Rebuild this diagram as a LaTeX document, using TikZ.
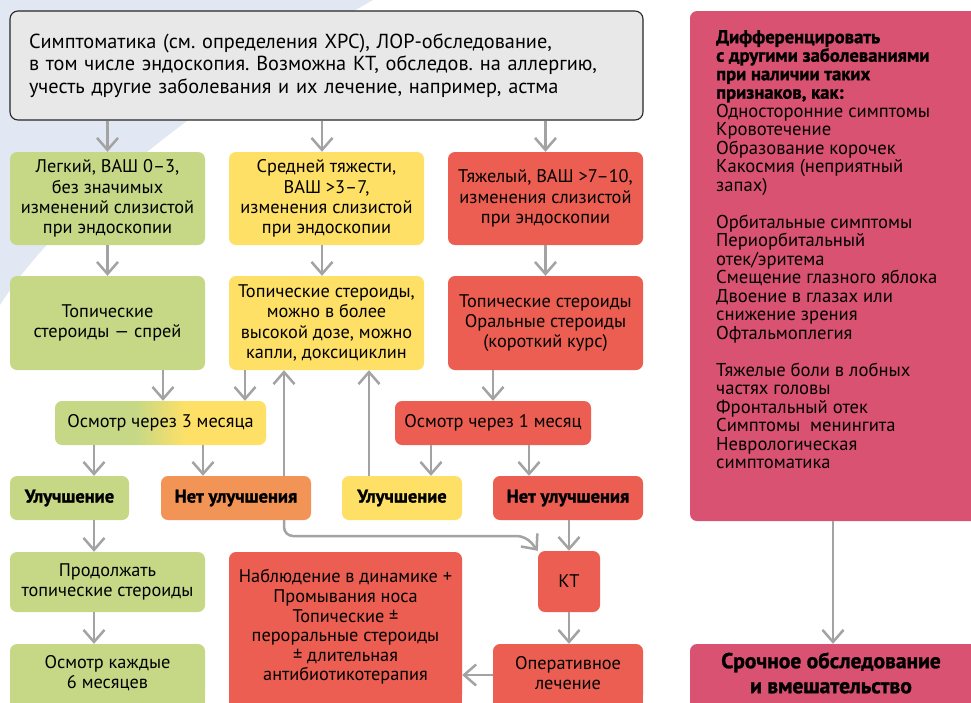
\documentclass[tikz,border=0pt]{standalone}
\usepackage{fontspec}
\setmainfont{PT Sans}[BoldFeatures={FakeBold=1.3}]
\usetikzlibrary{arrows.meta,calc}
\definecolor{cG}{HTML}{C6D886}
\definecolor{cY}{HTML}{FEE066}
\definecolor{cR}{HTML}{EC5E51}
\definecolor{cO}{HTML}{F29455}
\definecolor{cP}{HTML}{D95272}
\definecolor{cA}{HTML}{A3A3A3}
\definecolor{cT}{HTML}{E8E8E8}
\definecolor{cB}{HTML}{E1E7F3}
\pgfdeclarehorizontalshading{gyshade}{100bp}{color(0bp)=(cG); color(44bp)=(cG); color(56bp)=(cY); color(100bp)=(cY)}
\frenchspacing
\lineskiplimit=-20pt
\begin{document}
\begin{tikzpicture}[x=1pt,y=-1pt,
  box/.style={rectangle, rounded corners=7pt, inner sep=0pt, align=center, text=black,
    font=\fontsize{18.3}{20.3}\selectfont},
  bbox/.style={box, font=\bfseries\fontsize{18.5}{20.5}\selectfont},
  arr/.style={draw=cA, line width=2.5pt, -{Straight Barb[length=12pt,width=21pt]}},
]
\useasboundingbox (0,0) rectangle (971,702);
\clip (0,0) rectangle (971,702);
\fill[white] (0,0) rectangle (971,702);
\fill[cB] (0,0) -- (373,0) .. controls (240,75) and (70,195) .. (0,305) -- cycle;

% helper coordinates for connector columns
\coordinate (c94) at (94,0);
\coordinate (c163) at (163,0);
\coordinate (c203) at (203,0);
\coordinate (c245) at (245,0);
\coordinate (c284) at (284,0);
\coordinate (c322) at (322,0);
\coordinate (c369) at (369,0);
\coordinate (c431) at (431,0);
\coordinate (c529) at (529,0);
\coordinate (c833) at (833,0);
\coordinate (h675) at (0,675);
\coordinate (bend) at (526,536);

% top box
\node[box, fill=cT, draw=black!85, line width=1.1pt, rounded corners=8pt,
  minimum width=633pt, minimum height=109pt, text width=595pt, align=left,
  font=\fontsize{20.3}{22.3}\selectfont] (top) at (326.5,65.5)
  {Симптоматика (см. определения ХРС), ЛОР-обследование,\\
   в том числе эндоскопия. Возможна КТ, обследов. на аллергию,\\
   учесть другие заболевания и их лечение, например, астма\\[3pt]};

% row 2
\node[box, fill=cG, minimum width=195pt, minimum height=93pt] (g2) at (107.5,198.5)
  {Легкий, ВАШ 0–3,\\ без значимых\\ изменений слизистой\\ при эндоскопии};
\node[box, fill=cY, minimum width=195pt, minimum height=93pt] (y2) at (326.5,198.5)
  {Средней тяжести,\\ ВАШ >3–7,\\ изменения слизистой\\ при эндоскопии};
\node[box, fill=cR, minimum width=195pt, minimum height=93pt] (r2) at (545.5,198.5)
  {Тяжелый, ВАШ >7–10,\\ изменения слизистой\\ при эндоскопии};

% row 3
\node[box, fill=cG, minimum width=195pt, minimum height=94pt] (g3) at (107.5,323)
  {Топические\\ стероиды — спрей};
\node[box, fill=cY, minimum width=195pt, minimum height=94pt] (y3) at (326.5,323)
  {Топические стероиды,\\ можно в более\\ высокой дозе, можно\\ капли, доксициклин};
\node[box, fill=cR, minimum width=195pt, minimum height=94pt] (r3) at (545.5,323)
  {Топические стероиды\\ Оральные стероиды\\ (короткий курс)};

% row 4
\node[box, shading=gyshade, minimum width=211pt, minimum height=44pt] (o3) at (160.5,423)
  {Осмотр через 3 месяца};
\node[box, fill=cR, minimum width=196pt, minimum height=44pt] (o1) at (493,423)
  {Осмотр через 1 месяц};

% row 5
\node[bbox, fill=cG, minimum width=119pt, minimum height=44pt] (gi) at (69.5,498) {Улучшение};
\node[bbox, fill=cO, minimum width=150pt, minimum height=44pt] (on) at (236,498) {Нет улучшения};
\node[bbox, fill=cY, minimum width=120pt, minimum height=44pt] (yi) at (402,498) {Улучшение};
\node[bbox, fill=cR, minimum width=150pt, minimum height=44pt] (rn) at (568,498) {Нет улучшения};

% fillers hiding bottom rounded corners of boxes cut by the lower edge
\fill[cR] (229,690) rectangle (462,712);
\fill[cG] (10,690) rectangle (205,712);
\fill[cR] (493,690) rectangle (643,712);
\fill[cP] (690,690) rectangle (990,712);

% row 6
\node[box, fill=cG, minimum width=195pt, minimum height=60pt] (gc) at (107.5,582)
  {Продолжать\\ топические стероиды};
\node[box, fill=cR, minimum width=233pt, minimum height=150pt,
  font=\fontsize{18.3}{19.6}\selectfont] (nab) at (345.5,627)
  {Наблюдение в динамике +\\ Промывания носа\\ Топические ±\\ пероральные стероиды\\ ± длительная\\ антибиотикотерапия};
\node[box, fill=cR, minimum width=62pt, minimum height=61pt] (kt) at (569,581.5) {КТ};

% row 7
\node[box, fill=cG, minimum width=195pt, minimum height=58pt] (g6) at (107.5,673)
  {Осмотр каждые\\ 6 месяцев};
\node[box, fill=cR, minimum width=150pt, minimum height=58pt] (op) at (568,673)
  {Оперативное\\ лечение};

% right column
\node[box, fill=cP, minimum width=295pt, minimum height=510pt] (pk) at (837.5,266) {};
\node[anchor=north west, inner sep=0pt, align=left, text=black,
  font=\fontsize{18.6}{18.5}\selectfont] (pkt) at (716,30)
  {\textbf{Дифференцировать}\\
   \textbf{с другими заболеваниями}\\
   \textbf{при наличии таких}\\
   \textbf{признаков, как:}\\
   Односторонние симптомы\\
   Кровотечение\\
   Образование корочек\\
   Какосмия (неприятный\\
   запах)\\[18.5pt]
   Орбитальные симптомы\\
   Периорбитальный\\
   отек/эритема\\
   Смещение глазного яблока\\
   Двоение в глазах или\\
   снижение зрения\\
   Офтальмоплегия\\[18.5pt]
   Тяжелые боли в лобных\\
   частях головы\\
   Фронтальный отек\\
   Симптомы\ \ менингита\\
   Неврологическая\\
   симптоматика};
\node[bbox, fill=cP, minimum width=295pt, minimum height=58pt,
  font=\bfseries\fontsize{21.5}{25}\selectfont] (sp) at (837.5,673)
  {\hspace*{-13pt}Срочное обследование\\ \hspace*{-13pt}и вмешательство};

% connectors
\draw[arr] (top.south -| g2) -- (g2.north);
\draw[arr] (top.south -| c322) -- (y2.north -| c322);
\draw[arr] (top.south -| r2) -- (r2.north);
\draw[arr] (g2.south) -- (g3.north);
\draw[arr] (y2.south -| c322) -- (y3.north -| c322);
\draw[arr] (r2.south) -- (r3.north);
\draw[arr] (g3.south -| c163) -- (o3.north -| c163);
\draw[arr] (y3.south -| c245) -- (o3.north -| c245);
\draw[arr] (r3.south -| o1) -- (o1.north);
\draw[arr] (o3.south -| c94) -- (gi.north -| c94);
\draw[arr] (o3.south -| c203) -- (on.north -| c203);
\draw[arr] (o1.south -| c431) -- (yi.north -| c431);
\draw[arr] (o1.south -| c529) -- (rn.north -| c529);
\draw[arr] (on.north -| c284) -- (y3.south -| c284);
\draw[arr] (yi.north -| c369) -- (y3.south -| c369);
\draw[arr, rounded corners=9pt] (on.south -| c284) |- (bend) -- (kt.north west);
\draw[arr] (rn.south -| kt) -- (kt.north);
\draw[arr] (kt.south) -- (op.north -| kt);
\draw[arr] (op.west |- h675) -- (nab.east |- h675);
\draw[arr] (gi.south -| c94) -- (gc.north -| c94);
\draw[arr] (gc.south -| c94) -- (g6.north -| c94);
\draw[arr] (pk.south -| c833) -- (sp.north -| c833);
\end{tikzpicture}
\end{document}
